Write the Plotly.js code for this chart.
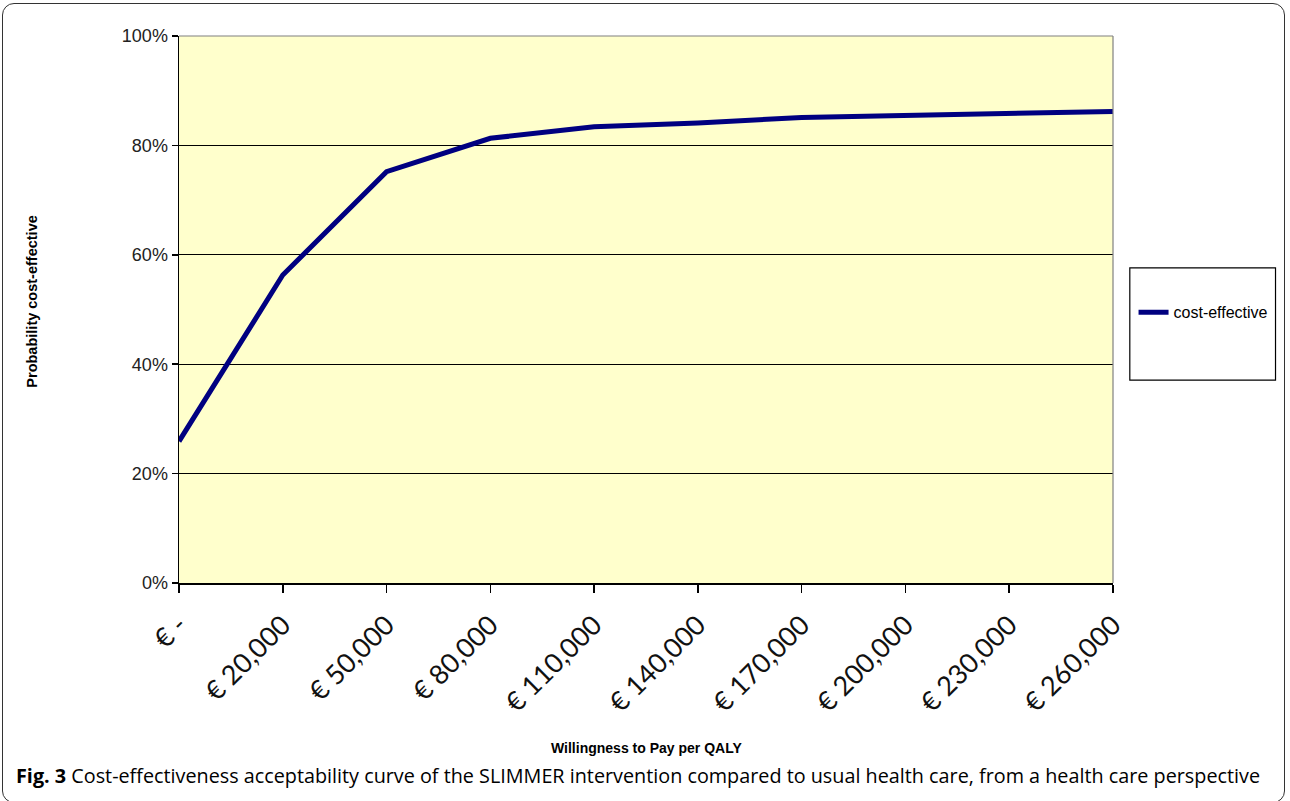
<!DOCTYPE html>
<html>
<head>
<meta charset="utf-8">
<script src="https://cdn.plot.ly/plotly-3.0.1.min.js"></script>
<style>
  html, body { margin: 0; padding: 0; background: #ffffff; }
  #wrap { position: relative; width: 1290px; height: 801px; }
  #chart { position: absolute; left: 0; top: 0; width: 1290px; height: 801px; }
  #frame { position: absolute; left: 2px; top: 3px; width: 1283px; height: 800px;
           border: 1.5px solid #333; border-radius: 12px; box-sizing: border-box; pointer-events: none; }
</style>
</head>
<body>
<div id="wrap">
  <div id="chart"></div>
  <div id="frame"></div>
</div>
<script>
const categories = ["€ -", "€ 20,000", "€ 50,000", "€ 80,000", "€ 110,000", "€ 140,000",
                    "€ 170,000", "€ 200,000", "€ 230,000", "€ 260,000"];
const probability = [0.259, 0.563, 0.752, 0.813, 0.834, 0.841, 0.851, 0.855, 0.857, 0.862];
const yTickValues = [0, 0.2, 0.4, 0.6, 0.8, 1.0];
const yTickLabels = ["0%", "20%", "40%", "60%", "80%", "100%"];
const seriesName = "cost-effective";
const xTitle = "Willingness to Pay per QALY";
const yTitle = "Probability cost-effective";

const trace = {
  x: categories,
  y: probability,
  type: "scatter",
  mode: "lines",
  name: seriesName,
  line: { color: "#000080", width: 5 },
  hoverinfo: "skip"
};

const layout = {
  width: 1290, height: 801,
  margin: { l: 179, r: 177, t: 36, b: 218 },
  paper_bgcolor: "rgba(0,0,0,0)",
  plot_bgcolor: "#FFFFCC",
  font: { family: "Liberation Sans, Arial, sans-serif", color: "#000" },
  showlegend: true,
  legend: {
    x: 1.022, xanchor: "left", y: 0.495, yanchor: "middle",
    bgcolor: "rgba(0,0,0,0)", borderwidth: 0,
    font: { family: "Liberation Sans Narrow, Arial Narrow, Liberation Sans, Arial", size: 16, color: "#000" },
    itemwidth: 30, tracegroupgap: 0
  },
  xaxis: {
    type: "category",
    range: [0, categories.length - 1],
    tickangle: -45,
    tickfont: { size: 27, family: "Lato, Open Sans, sans-serif", color: "#111" },
    ticks: "outside", ticklen: 8, tickwidth: 1.5, tickcolor: "#000",
    ticklabelstandoff: 6,
    showline: true, linecolor: "#000", linewidth: 1.5,
    showgrid: false, zeroline: false, fixedrange: true
  },
  yaxis: {
    range: [0, 1],
    tickvals: yTickValues, ticktext: yTickLabels,
    tickfont: { size: 18, family: "Liberation Sans, Arial", color: "#222" },
    ticks: "outside", ticklen: 6, tickwidth: 1.5, tickcolor: "#000",
    showline: true, linecolor: "#000", linewidth: 1.5,
    showgrid: true, gridcolor: "#000", gridwidth: 1.3,
    zeroline: false, fixedrange: true
  },
  shapes: [
    { type: "line", xref: "paper", yref: "paper", x0: 0, x1: 1, y0: 1, y1: 1,
      line: { color: "#808080", width: 1.2 } },
    { type: "line", xref: "paper", yref: "paper", x0: 1, x1: 1, y0: 0, y1: 1,
      line: { color: "#808080", width: 1.2 } },
    { type: "rect", xref: "paper", yref: "paper", x0: 1.018, x1: 1.174, y0: 0.371, y1: 0.576,
      fillcolor: "#ffffff", line: { color: "#000", width: 1.2 }, layer: "below" }
  ],
  annotations: [
    { text: "<b>" + xTitle + "</b>", xref: "paper", yref: "paper", x: 0.5, y: -0.302,
      xanchor: "center", yanchor: "middle", showarrow: false,
      font: { size: 14, family: "Liberation Sans, Arial", color: "#000" } },
    { text: "<b>" + yTitle + "</b>", xref: "paper", yref: "paper", x: -0.157, y: 0.515,
      xanchor: "center", yanchor: "middle", showarrow: false, textangle: -90,
      font: { size: 14.5, family: "Liberation Sans, Arial", color: "#000" } },
    { text: "<b>Fig. 3</b> Cost-effectiveness acceptability curve of the SLIMMER intervention compared to usual health care, from a health care perspective",
      xref: "paper", yref: "paper", x: -0.177, y: -0.352, xanchor: "left", yanchor: "middle",
      showarrow: false, font: { size: 19.8, family: "Open Sans, sans-serif", color: "#000" } }
  ]
};

Plotly.newPlot("chart", [trace], layout, { displayModeBar: false, staticPlot: true });
</script>
</body>
</html>
